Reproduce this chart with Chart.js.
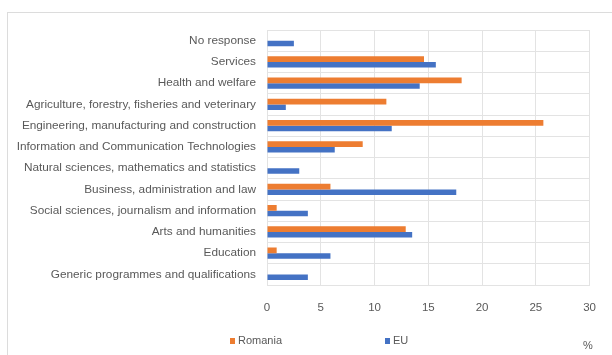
<!DOCTYPE html>
<html>
<head>
<meta charset="utf-8">
<script src="https://cdn.jsdelivr.net/npm/chart.js@4/dist/chart.umd.min.js"></script>
<style>
  html, body { margin: 0; padding: 0; background: #fff; }
  #wrap { width: 612px; height: 355px; position: relative; }
</style>
</head>
<body>
<div id="wrap"><canvas id="barChart" width="612" height="355"></canvas></div>
<script>
// fields of education, top to bottom
const categories = [
  'No response',
  'Services',
  'Health and welfare',
  'Agriculture, forestry, fisheries and veterinary',
  'Engineering, manufacturing and construction',
  'Information and Communication Technologies',
  'Natural sciences, mathematics and statistics',
  'Business, administration and law',
  'Social sciences, journalism and information',
  'Arts and humanities',
  'Education',
  'Generic programmes and qualifications'
];

const romania = [0, 14.6, 18.1, 11.1, 25.7, 8.9, 0, 5.9, 0.9, 12.9, 0.9, 0];
const eu = [2.5, 15.7, 14.2, 1.75, 11.6, 6.3, 3.0, 17.6, 3.8, 13.5, 5.9, 3.8];

const xTicks = [0, 5, 10, 15, 20, 25, 30];
const unitLabel = '%';

const labelFont = "'Liberation Sans', sans-serif";
const textColor = '#595959';
const gridColor = '#e3e3e3';

// frame, legend and unit label drawn on top of the chart
const extras = {
  id: 'extras',
  beforeDraw(chart) {
    const ctx = chart.ctx;
    ctx.save();
    ctx.strokeStyle = '#dcdcdc';
    ctx.lineWidth = 1;
    ctx.strokeRect(7.5, 12.5, 700, 400);
    ctx.restore();
  },
  afterDraw(chart) {
    const ctx = chart.ctx;
    ctx.save();
    ctx.font = "11px " + labelFont;
    ctx.textBaseline = 'middle';
    ctx.fillStyle = textColor;
    const spots = [230, 385];
    chart.data.datasets.forEach((ds, i) => {
      const x = spots[i];
      ctx.fillStyle = ds.backgroundColor;
      ctx.fillRect(x, 338, 5, 6);
      ctx.fillStyle = textColor;
      ctx.fillText(ds.label, x + 8, 341);
    });
    ctx.fillText(unitLabel, 583, 346);
    ctx.restore();
  }
};

const ctx = document.getElementById('barChart');

new Chart(ctx, {
  type: 'bar',
  data: {
    labels: categories,
    datasets: [
      {
        label: 'Romania',
        data: romania,
        backgroundColor: '#ED7D31',
        categoryPercentage: 0.52,
        barPercentage: 1
      },
      {
        label: 'EU',
        data: eu,
        backgroundColor: '#4472C4',
        categoryPercentage: 0.52,
        barPercentage: 1
      }
    ]
  },
  options: {
    indexAxis: 'y',
    responsive: false,
    animation: false,
    layout: { padding: { top: 30, right: 19, left: 0, bottom: 0 } },
    plugins: {
      legend: { display: false },
      tooltip: { enabled: false }
    },
    scales: {
      x: {
        min: 0,
        max: 30,
        afterBuildTicks(scale) {
          scale.ticks = xTicks.map(v => ({ value: v }));
        },
        afterFit(scale) { scale.height = 70; },
        grid: { color: gridColor, drawTicks: false },
        border: { color: gridColor },
        ticks: {
          padding: 16,
          color: textColor,
          font: { family: labelFont, size: 11.5 }
        }
      },
      y: {
        afterFit(scale) { scale.width = 267; },
        grid: { color: gridColor, drawTicks: false },
        border: { color: gridColor },
        ticks: {
          padding: 11,
          color: textColor,
          font: { family: labelFont, size: 11.8 }
        }
      }
    }
  },
  plugins: [extras]
});
</script>
</body>
</html>
